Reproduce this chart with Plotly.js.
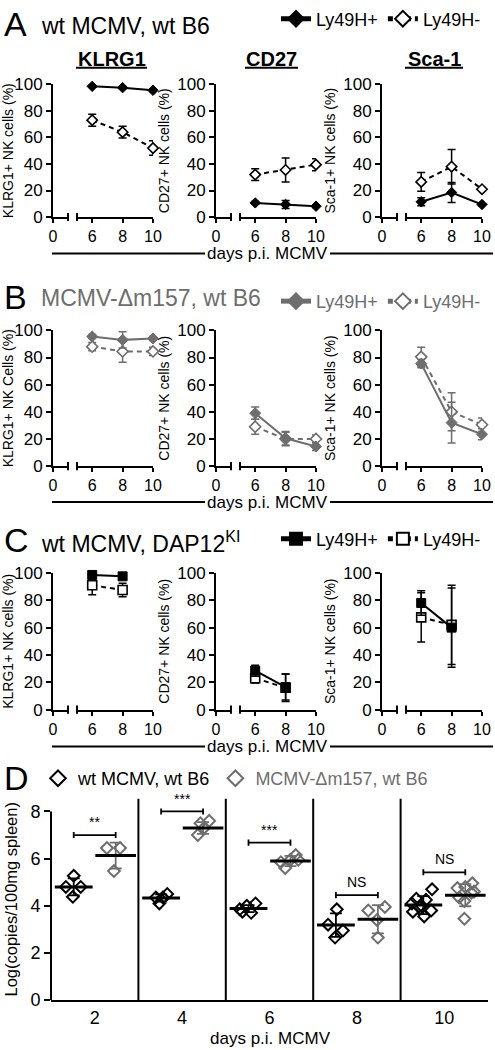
<!DOCTYPE html>
<html><head><meta charset="utf-8">
<script src="https://cdn.plot.ly/plotly-3.0.1.min.js"></script>
<style>html,body{margin:0;padding:0;background:#fff}</style>
</head><body><div id="chart" style="width:495px;height:1050px"></div>
<script>
// ---------------- data ----------------
const days = [6, 8, 10];
const daysC = [6, 8];
const markerTitles = ['KLRG1', 'CD27', 'Sca-1'];
const yTitlesA = ['KLRG1+ NK cells (%)', 'CD27+ NK cells (%)', 'Sca-1+ NK cells (%)'];
const yTitlesB = ['KLRG1+ NK Cells (%)', 'CD27+ NK cells (%)', 'Sca-1+ NK cells (%)'];
const yTitlesC = ['KLRG1+ NK cells (%)', 'CD27+ NK cells (%)', 'Sca-1+ NK cells (%)'];
const seriesNames = ['Ly49H+', 'Ly49H-'];
const rowTitles = ['wt MCMV, wt B6', 'MCMV-\u0394m157, wt B6', 'wt MCMV, DAP12<sup>KI</sup>'];
const rowLetters = ['A', 'B', 'C'];

// Panel A (wt MCMV, wt B6)
const A_KLRG1_pos = [98.5, 97.5, 95.5], A_KLRG1_posErr = [0.6, 0.6, 0.8];
const A_KLRG1_neg = [73, 64, 52],       A_KLRG1_negErr = [4.5, 4.5, 5.5];
const A_CD27_pos  = [10.7, 9.5, 8.2],   A_CD27_posErr  = [1, 3, 1];
const A_CD27_neg  = [32, 35.5, 39.5],   A_CD27_negErr  = [4.5, 9, 4.5];
const A_Sca1_pos  = [11.5, 18.5, 9.5],  A_Sca1_posErr  = [3, 7.5, 1];
const A_Sca1_neg  = [26.5, 38, 21],     A_Sca1_negErr  = [7, 13, 1];
// Panel B (MCMV-Δm157, wt B6)
const B_KLRG1_pos = [95.5, 93, 94],     B_KLRG1_posErr = [1.5, 6, 1.5];
const B_KLRG1_neg = [88, 84.5, 84.5],   B_KLRG1_negErr = [3, 8, 3];
const B_CD27_pos  = [39, 20.5, 14.5],   B_CD27_posErr  = [4.5, 5, 3];
const B_CD27_neg  = [29, 20, 20],       B_CD27_negErr  = [5.5, 5, 3];
const B_Sca1_pos  = [75.5, 32, 23.5],   B_Sca1_posErr  = [3, 15, 4];
const B_Sca1_neg  = [80.5, 40, 30.5],   B_Sca1_negErr  = [7, 14, 5];
// Panel C (wt MCMV, DAP12KI)
const C_KLRG1_pos = [98.5, 97.5],       C_KLRG1_posErr = [0.6, 0.6];
const C_KLRG1_neg = [91, 87.5],         C_KLRG1_negErr = [7, 5];
const C_CD27_pos  = [28.5, 16.5],       C_CD27_posErr  = [4, 9.5];
const C_CD27_neg  = [23, 16],           C_CD27_negErr  = [3.5, 10];
const C_Sca1_pos  = [78, 60],           C_Sca1_posErr  = [9, 29];
const C_Sca1_neg  = [67.5, 62],         C_Sca1_negErr  = [18, 29];

// Panel D (viral load)
const dDayLabels = ['2', '4', '6', '8', '10'];
const dSeriesNames = ['wt MCMV, wt B6', 'MCMV-\u0394m157, wt B6'];
const wtVals = [
  [4.8, 5.27, 4.8, 4.38],
  [4.35, 4.5, 4.1, 4.35],
  [4.0, 4.1, 3.7, 3.75, 3.85],
  [3.2, 3.85, 2.95, 2.65],
  [4.7, 4.3, 4.25, 4.1, 4.0, 3.8, 3.75, 3.55, 3.95]
];
const wtJitter = [
  [-0.09, 0, 0.08, -0.01],
  [-0.06, 0.07, -0.02, 0.02],
  [-0.02, 0.08, 0.03, -0.07, -0.1],
  [-0.09, 0.01, 0.08, -0.01],
  [0.1, -0.08, 0.03, -0.13, -0.02, 0.09, -0.12, 0.01, -0.05]
];
const dmVals = [
  [6.45, 6.45, 5.47],
  [7.0, 7.5, 7.6, 7.3],
  [5.6, 6.15, 5.85, 5.95, 5.95],
  [3.8, 3.95, 2.65, 3.4],
  [4.75, 4.95, 4.8, 4.35, 4.55, 4.2, 3.45, 4.6]
];
const dmJitter = [
  [-0.1, 0.05, -0.02],
  [-0.06, -0.03, 0.07, 0.01],
  [-0.06, 0.06, -0.11, 0.0, 0.09],
  [-0.11, 0.08, 0.0, -0.01],
  [-0.09, 0.08, 0.0, -0.07, 0.07, -0.01, -0.01, 0.1]
];
const wtMean = [4.8, 4.33, 3.88, 3.18, 4.03];
const wtSD   = [0.36, 0.15, 0.15, 0.5, 0.38];
const dmMean = [6.13, 7.3, 5.9, 3.43, 4.45];
const dmSD   = [0.55, 0.25, 0.22, 0.6, 0.47];
const sigY    = [7.0, 8.0, 6.68, 4.45, 5.42];
const sigText = ['**', '***', '***', 'NS', 'NS'];

// ---------------- layout helpers ----------------
const W = 495, H = 1050;
const X = p => p / W, Y = p => 1 - p / H;
const FONT = 'Arial, "Liberation Sans", Helvetica, sans-serif';
const GRAY = '#6e6e6e';
const axn = n => (n === 1 ? '' : String(n));

const rowData = [
  [[A_KLRG1_pos, A_KLRG1_posErr, A_KLRG1_neg, A_KLRG1_negErr],
   [A_CD27_pos, A_CD27_posErr, A_CD27_neg, A_CD27_negErr],
   [A_Sca1_pos, A_Sca1_posErr, A_Sca1_neg, A_Sca1_negErr]],
  [[B_KLRG1_pos, B_KLRG1_posErr, B_KLRG1_neg, B_KLRG1_negErr],
   [B_CD27_pos, B_CD27_posErr, B_CD27_neg, B_CD27_negErr],
   [B_Sca1_pos, B_Sca1_posErr, B_Sca1_neg, B_Sca1_negErr]],
  [[C_KLRG1_pos, C_KLRG1_posErr, C_KLRG1_neg, C_KLRG1_negErr],
   [C_CD27_pos, C_CD27_posErr, C_CD27_neg, C_CD27_negErr],
   [C_Sca1_pos, C_Sca1_posErr, C_Sca1_neg, C_Sca1_negErr]]
];
const rowDays = [days, days, daysC];
const rowYTitles = [yTitlesA, yTitlesB, yTitlesC];
const rowColor = ['#000', GRAY, '#000'];
const rowSymbol = ['diamond', 'diamond', 'square'];
const rowSize = [8, 8.5, 9];
const legendIds = ['legend', 'legend2', 'legend3'];

const colX = [53, 216, 382];
const rowY = [[82.5, 215.5], [329, 465], [572, 709]];
const rowLetterY = [22, 296, 539];
const rowTitleY = [24, 297, 541];
const rowLegendY = [17, 300, 538];
const rowDaysY = [252, 501, 746];

const layout = {
  width: W, height: H,
  margin: {l: 0, r: 0, t: 0, b: 0},
  paper_bgcolor: '#fff', plot_bgcolor: 'rgba(0,0,0,0)',
  font: {family: FONT, color: '#000', size: 17},
  showlegend: true,
  shapes: [], annotations: []
};
const traces = [];
const lineShape = (x0, y0, x1, y1, xref, yref, color, w) => ({
  type: 'line', x0, y0, x1, y1, xref: xref || 'paper', yref: yref || 'paper',
  line: {color: color || '#000', width: w || 2}, layer: 'above'
});

for (let r = 0; r < 3; r++) {
  for (let c = 0; c < 3; c++) {
    const k = r * 3 + c, s1 = 2 * k + 1, s2 = 2 * k + 2, yn = k + 1;
    const x0 = colX[c], top = rowY[r][0], bot = rowY[r][1];
    const common = {showline: true, linewidth: 2, linecolor: '#000', ticks: 'outside',
      ticklen: 5, tickwidth: 2, tickcolor: '#000', showgrid: false, zeroline: false,
      fixedrange: true, tickfont: {size: 17, color: '#000'}};
    const xcommon = Object.assign({}, common, {ticklen: 4, tickfont: {size: 16, color: '#000'}});
    layout['xaxis' + axn(s1)] = Object.assign({}, xcommon, {
      domain: [X(x0), X(x0 + 15)], range: [0, 1], anchor: 'y' + axn(yn),
      tickmode: 'array', tickvals: [0], ticktext: ['0']});
    layout['xaxis' + axn(s2)] = Object.assign({}, xcommon, {
      domain: [X(x0 + 24), X(x0 + 100)], range: [5, 10], anchor: 'y' + axn(yn),
      tickmode: 'array', tickvals: [6, 8, 10]});
    layout['yaxis' + axn(yn)] = Object.assign({}, common, {
      domain: [Y(bot), Y(top)], range: [0, 100], anchor: 'x' + axn(s1),
      tickmode: 'array', tickvals: [0, 20, 40, 60, 80, 100],
      title: {text: rowYTitles[r][c], font: {size: 14, color: '#000'}, standoff: 4}});
    // axis break marks
    layout.shapes.push(lineShape(1, -0.03, 1, 0.03, 'x' + axn(s1) + ' domain', 'y' + axn(yn) + ' domain'));
    layout.shapes.push(lineShape(0, -0.03, 0, 0.03, 'x' + axn(s2) + ' domain', 'y' + axn(yn) + ' domain'));
    // empty trace registering the first (0) axis segment as a subplot
    traces.push({type: 'scatter', mode: 'markers', x: [], y: [], xaxis: 'x' + axn(s1), yaxis: 'y' + axn(yn),
      showlegend: false, hoverinfo: 'skip'});

    const d = rowData[r][c], col = rowColor[r];
    const errStyle = {type: 'data', visible: true, color: col, thickness: 1.5, width: 4};
    traces.push({
      type: 'scatter', mode: 'lines+markers', name: seriesNames[1],
      x: rowDays[r], y: d[2], xaxis: 'x' + axn(s2), yaxis: 'y' + axn(yn),
      line: {color: col, width: 2, dash: '5px,4px'},
      marker: {symbol: rowSymbol[r], size: rowSize[r], color: '#fff', line: {color: col, width: 1.6}},
      error_y: Object.assign({array: d[3]}, errStyle),
      cliponaxis: false, showlegend: c === 0, legend: legendIds[r], legendrank: 2
    });
    traces.push({
      type: 'scatter', mode: 'lines+markers', name: seriesNames[0],
      x: rowDays[r], y: d[0], xaxis: 'x' + axn(s2), yaxis: 'y' + axn(yn),
      line: {color: col, width: 2},
      marker: {symbol: rowSymbol[r], size: rowSize[r], color: col, line: {color: col, width: 1}},
      error_y: Object.assign({array: d[1]}, errStyle),
      cliponaxis: false, showlegend: c === 0, legend: legendIds[r], legendrank: 1
    });
  }
  // row headings
  layout.annotations.push({text: rowLetters[r], x: X(2), y: Y(rowLetterY[r]), xref: 'paper', yref: 'paper',
    xanchor: 'left', yanchor: 'middle', showarrow: false, font: {size: 34, color: '#000'}});
  layout.annotations.push({text: rowTitles[r], x: X(39), y: Y(rowTitleY[r]), xref: 'paper', yref: 'paper',
    xanchor: 'left', yanchor: 'middle', showarrow: false, font: {size: 23, color: r === 1 ? GRAY : '#000'}});
  // days p.i. MCMV line
  const dy = Y(rowDaysY[r]);
  layout.shapes.push(lineShape(X(52), dy, X(205), dy));
  layout.shapes.push(lineShape(X(330), dy, X(493), dy));
  layout.annotations.push({text: 'days p.i. MCMV', x: X(267), y: dy, xref: 'paper', yref: 'paper',
    xanchor: 'center', yanchor: 'middle', showarrow: false, borderpad: 0, font: {size: 17, color: '#000'}});
  layout[legendIds[r]] = {orientation: 'h', x: X(276), y: Y(rowLegendY[r]), xanchor: 'left', yanchor: 'middle',
    itemsizing: 'constant', font: {size: 18, color: r === 1 ? GRAY : '#000'}, bgcolor: 'rgba(0,0,0,0)',
    traceorder: 'normal', borderwidth: 0};
}
// marker column titles (row A)
const mtX = [[76, 147], [245, 298], [405, 463]];
for (let c = 0; c < 3; c++) {
  layout.annotations.push({text: '<b>' + markerTitles[c] + '</b>', x: X((mtX[c][0] + mtX[c][1]) / 2), y: Y(57),
    xref: 'paper', yref: 'paper', xanchor: 'center', yanchor: 'middle', showarrow: false,
    font: {size: 20, color: '#000'}});
  layout.shapes.push(lineShape(X(mtX[c][0]), Y(66), X(mtX[c][1]), Y(66)));
}

// ---------------- Panel D ----------------
const OFF = 0.24;
layout.xaxis19 = {domain: [X(51), X(488)], range: [-0.5, 4.5], anchor: 'y10', showline: true, linewidth: 2,
  linecolor: '#000', ticks: '', tickmode: 'array', tickvals: [0, 1, 2, 3, 4], ticktext: dDayLabels,
  tickfont: {size: 18, color: '#000'}, showgrid: false, zeroline: false, fixedrange: true};
layout.yaxis10 = {domain: [Y(1000), Y(798)], range: [0, 8.55], anchor: 'x19', showline: false,
  ticks: 'outside', ticklen: 6, tickwidth: 2, tickcolor: '#000', tickmode: 'array', tickvals: [0, 2, 4, 6, 8],
  tickfont: {size: 18, color: '#000'}, showgrid: false, zeroline: false, fixedrange: true,
  title: {text: 'Log(copies/100mg spleen)', font: {size: 16.5, color: '#000'}, standoff: 8}};
layout.shapes.push(lineShape(0, 0, 0, 8, 'x19 domain', 'y10'));
for (let i = 0; i < 4; i++) layout.shapes.push(lineShape(i + 0.5, -0.12, i + 0.5, 8.55, 'x19', 'y10'));
layout.annotations.push({text: 'days p.i. MCMV', x: X(270), y: Y(1038), xref: 'paper', yref: 'paper',
  xanchor: 'center', yanchor: 'middle', showarrow: false, font: {size: 17, color: '#000'}});
layout.annotations.push({text: 'D', x: X(2), y: Y(777), xref: 'paper', yref: 'paper',
  xanchor: 'left', yanchor: 'middle', showarrow: false, font: {size: 34, color: '#000'}});
layout.legend4 = {orientation: 'h', x: X(38), y: Y(778), xanchor: 'left', yanchor: 'middle', itemsizing: 'constant',
  font: {size: 18, color: '#000'}, bgcolor: 'rgba(0,0,0,0)', traceorder: 'normal'};

function flatPts(vals, jit, off) {
  const xs = [], ys = [];
  vals.forEach((arr, i) => arr.forEach((v, j) => { xs.push(i + off + jit[i][j]); ys.push(v); }));
  return {xs, ys};
}
const wtP = flatPts(wtVals, wtJitter, -OFF), dmP = flatPts(dmVals, dmJitter, OFF);
traces.push({type: 'scatter', mode: 'markers', name: dSeriesNames[0], x: wtP.xs, y: wtP.ys,
  xaxis: 'x19', yaxis: 'y10', marker: {symbol: 'diamond-open', size: 9, color: '#000', line: {width: 2, color: '#000'}},
  cliponaxis: false, legend: 'legend4', showlegend: true});
traces.push({type: 'scatter', mode: 'markers', name: '<span style="color:' + GRAY + '">' + dSeriesNames[1] + '</span>',
  x: dmP.xs, y: dmP.ys, xaxis: 'x19', yaxis: 'y10',
  marker: {symbol: 'diamond-open', size: 9, color: GRAY, line: {width: 2, color: GRAY}},
  cliponaxis: false, legend: 'legend4', showlegend: true});
const idx = dDayLabels.map((_, i) => i);
traces.push({type: 'scatter', mode: 'markers', x: idx.map(i => i - OFF), y: wtMean, xaxis: 'x19', yaxis: 'y10',
  marker: {symbol: 'line-ew-open', size: 27, color: '#000', line: {width: 3, color: '#000'}},
  error_y: {type: 'data', array: wtSD, visible: true, color: '#000', thickness: 1.8, width: 6},
  cliponaxis: false, showlegend: false});
traces.push({type: 'scatter', mode: 'markers', x: idx.map(i => i + OFF), y: dmMean, xaxis: 'x19', yaxis: 'y10',
  marker: {symbol: 'line-ew-open', size: 29, color: '#000', line: {width: 3, color: '#000'}},
  error_y: {type: 'data', array: dmSD, visible: true, color: GRAY, thickness: 1.8, width: 6},
  cliponaxis: false, showlegend: false});
// significance brackets
idx.forEach(i => {
  const a = i - OFF, b = i + OFF, yv = sigY[i];
  layout.shapes.push(lineShape(a, yv, b, yv, 'x19', 'y10', '#000', 1.8));
  layout.shapes.push(lineShape(a, yv - 0.13, a, yv + 0.13, 'x19', 'y10', '#000', 1.8));
  layout.shapes.push(lineShape(b, yv - 0.13, b, yv + 0.13, 'x19', 'y10', '#000', 1.8));
  layout.annotations.push({text: sigText[i], x: i, y: yv + 0.12, xref: 'x19', yref: 'y10', xanchor: 'center',
    yanchor: 'bottom', showarrow: false, font: {size: 14, color: '#000'}});
});

Plotly.newPlot('chart', traces, layout, {staticPlot: true, displayModeBar: false});
</script>
</body></html>
